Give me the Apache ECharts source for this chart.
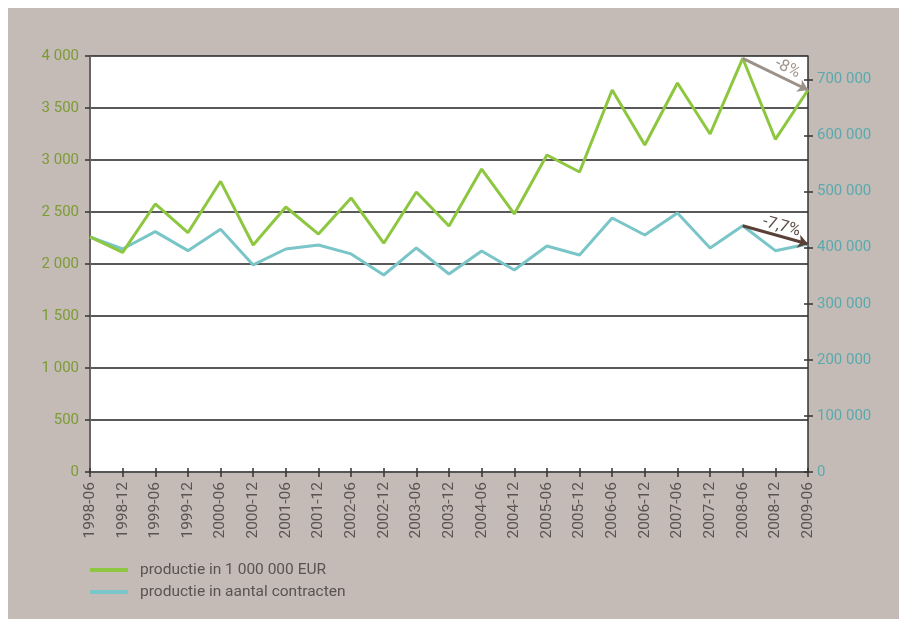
<!DOCTYPE html>
<html>
<head>
<meta charset="utf-8">
<script src="https://cdn.jsdelivr.net/npm/echarts@6/dist/echarts.min.js"></script>
<style>
html,body{margin:0;padding:0;background:#ffffff;}
#c{position:absolute;left:8px;top:8px;width:891px;height:611px;background:#c4bbb6;}
</style>
</head>
<body>
<div id="c"></div>
<script>
const categories = ['1998-06','1998-12','1999-06','1999-12','2000-06','2000-12','2001-06','2001-12','2002-06','2002-12','2003-06','2003-12','2004-06','2004-12','2005-06','2005-12','2006-06','2006-12','2007-06','2007-12','2008-06','2008-12','2009-06'];
const productieEUR = [2260,2112,2577,2301,2795,2183,2548,2288,2635,2200,2692,2365,2913,2481,3048,2885,3673,3144,3740,3250,3978,3199,3673];
const productieContracten = [419200,397800,428700,394800,433000,369300,397800,405000,389000,351400,399600,353200,394200,360300,403100,387100,453100,422800,462000,399600,439300,394800,406700];
const leftTicks = [0,500,1000,1500,2000,2500,3000,3500,4000];
const rightTicks = [0,100000,200000,300000,400000,500000,600000,700000];
const seriesNames = ['productie in 1 000 000 EUR','productie in aantal contracten'];
const changeLabels = ['-8%','-7,7%'];

const fmt = v => String(v).replace(/\B(?=(\d{3})+(?!\d))/g, ' ');
const FONT = 'Roboto';
const chart = echarts.init(document.getElementById('c'), null, {renderer:'canvas'});
const last = categories.length - 1, peak = 20;
chart.setOption({
  animation:false,
  textStyle:{fontFamily:FONT},
  grid:{left:82,right:91,top:48,bottom:147,show:true,backgroundColor:'#ffffff',borderWidth:0},
  legend:{
    left:77, top:549, orient:'vertical', itemWidth:38, itemHeight:4, itemGap:6,
    icon:'rect',
    textStyle:{fontFamily:FONT,fontSize:15.5,color:'#5a5350',lineHeight:16,padding:[0,0,0,7]},
    data:seriesNames
  },
  xAxis:[{
    type:'category', data:categories, boundaryGap:false,
    axisLine:{show:true,lineStyle:{color:'#555',width:2}},
    axisTick:{show:true,alignWithLabel:true,length:5,lineStyle:{color:'#333',width:1.5}},
    axisLabel:{rotate:90,margin:10,fontFamily:FONT,fontSize:15.5,color:'#5a5350',interval:0},
    splitLine:{show:false}
  },{
    type:'category', data:categories, boundaryGap:false, position:'bottom',
    axisLine:{show:false},
    axisTick:{show:true,inside:true,length:4,interval:0,lineStyle:{color:'#333',width:1.5}},
    axisLabel:{show:false}, splitLine:{show:false}
  }],
  yAxis:[{
    type:'value', min:0, max:4000, interval:500, position:'left',
    axisLine:{show:true,lineStyle:{color:'#666',width:2}},
    axisTick:{show:true,length:5,lineStyle:{color:'#333',width:1.5}},
    axisLabel:{margin:11,fontFamily:FONT,fontSize:15,color:'#7d9b35',formatter:v=>fmt(v)},
    splitLine:{show:true,lineStyle:{color:'#222',width:1.5}}
  },{
    type:'value', min:0, max:742000, position:'right',
    axisLine:{show:true,lineStyle:{color:'#333',width:1.5}},
    axisTick:{show:true,length:5,customValues:rightTicks,lineStyle:{color:'#333',width:1.5}},
    axisLabel:{margin:9,fontFamily:FONT,fontSize:15,color:'#5aa9ad',customValues:rightTicks,formatter:v=>fmt(v)},
    splitLine:{show:false}
  },{
    type:'value', min:0, max:742000, position:'right',
    axisLine:{show:false},
    axisTick:{show:true,inside:true,length:4,customValues:rightTicks,lineStyle:{color:'#333',width:1.5}},
    axisLabel:{show:false}, splitLine:{show:false}
  }],
  series:[{
    name:seriesNames[0], type:'line', yAxisIndex:0, data:productieEUR,
    symbol:'none', lineStyle:{color:'#8dc63f',width:3}, itemStyle:{color:'#8dc63f'},
    z:3,
    markLine:{
      silent:true, symbol:['none','arrow'], symbolSize:10,
      lineStyle:{color:'#9b918b',width:3,type:'solid'},
      label:{show:true,position:'insideEndTop',distance:[15,2],formatter:changeLabels[0],fontFamily:FONT,fontSize:16.5,color:'#a0948d'},
      data:[[{coord:[categories[peak],productieEUR[peak]]},{coord:[categories[last],productieEUR[last]]}]]
    }
  },{
    name:seriesNames[1], type:'line', yAxisIndex:1, data:productieContracten,
    symbol:'none', lineStyle:{color:'#7ac5c8',width:3}, itemStyle:{color:'#7ac5c8'},
    z:2,
    markLine:{
      silent:true, symbol:['none','arrow'], symbolSize:10,
      lineStyle:{color:'#5a4037',width:3,type:'solid'},
      label:{show:true,position:'insideEndTop',distance:[11,1],formatter:changeLabels[1],fontFamily:FONT,fontSize:16.5,color:'#5a4a44'},
      data:[[{coord:[categories[peak],productieContracten[peak]]},{coord:[categories[last],productieContracten[last]]}]]
    }
  }]
});
</script>
</body>
</html>
